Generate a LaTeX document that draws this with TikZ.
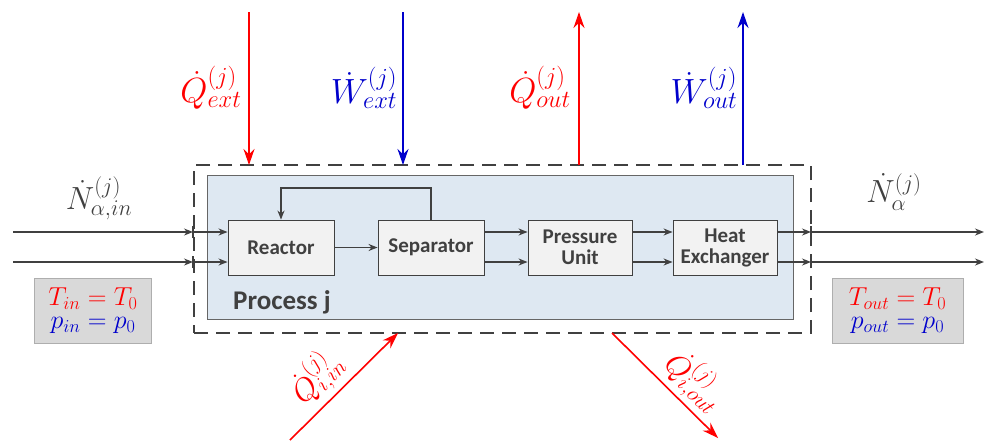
\RequirePackage{fix-cm}
\documentclass[tikz,border=0pt]{standalone}
\usepackage{fontspec}
\newfontfamily\boxfont{Carlito}
\usetikzlibrary{arrows.meta}
\definecolor{dk}{HTML}{404040}
\definecolor{procfill}{HTML}{DEE8F2}
\definecolor{unitfill}{HTML}{F2F2F2}
\definecolor{graybox}{HTML}{D9D9D9}
\definecolor{qred}{HTML}{FF0000}
\definecolor{wblue}{HTML}{0000CC}
\tikzset{
  unit/.style={draw=dk, line width=0.9pt, fill=unitfill, minimum width=106pt, minimum height=55pt, inner sep=0pt, align=center, font=\boxfont\bfseries\fontsize{21}{23}\selectfont, text=dk},
  flow/.style={draw=dk, line width=1.3pt, -{Stealth[length=9pt,width=7pt]}},
  tick/.style={draw=dk, line width=1.3pt},
  heat/.style={draw=qred, line width=1.8pt, -{Stealth[length=16pt,width=11pt]}},
  work/.style={draw=wblue, line width=1.8pt, -{Stealth[length=16pt,width=11pt]}},
  lbl/.style={font=\fontsize{35}{38}\selectfont, inner sep=0pt},
  cond/.style={fill=graybox, draw=graybox!80!black, line width=0.4pt, align=center, font=\fontsize{26}{28}\selectfont, inner sep=0pt},
}
\begin{document}
\begin{tikzpicture}[x=1pt,y=-1pt]
\useasboundingbox (0,0) rectangle (984,440);
% process box
\node[draw=dk!80, line width=0.9pt, fill=procfill, minimum width=586pt, minimum height=144pt, inner sep=0pt] (proc) at (500,247) {};
\node[anchor=west, font=\boxfont\bfseries\fontsize{27}{30}\selectfont, text=dk, inner sep=0pt] (plabel) at (233,302) {Process j};
% dashed system boundary
\node[draw=dk, line width=2.4pt, dash pattern=on 14pt off 8pt, minimum width=617pt, minimum height=168pt, inner sep=0pt] (sys) at (502.5,249) {};
% units
\node[unit] (reac) at (281,247.5) {Reactor};
\node[unit] (sep) at (431,247.5) {Separator};
\node[unit, minimum width=104pt] (pu) at (580,247.5) {Pressure\\[-2pt]Unit};
\node[unit, minimum width=104pt] (hx) at (725,247.5) {Heat\\[-2pt]Exchanger};
% coordinates
\coordinate (inA) at (13,232);
\coordinate (inB) at (13,262);
\coordinate (bA) at (193,232);
\coordinate (bB) at (193,262);
\coordinate (oA) at (811,232);
\coordinate (oB) at (811,262);
\coordinate (endA) at (984,232);
\coordinate (endB) at (984,262);
\coordinate (fb1) at (431,188);
\coordinate (fb2) at (281,188);
% inlet flows
\draw[flow] (inA) -- (bA);
\draw[flow] (inB) -- (bB);
\draw[tick] ([yshift=-6pt]bA) -- ([yshift=6pt]bA);
\draw[tick] ([yshift=-6pt]bB) -- ([yshift=6pt]bB);
\draw[flow] (bA) -- (reac.west |- bA);
\draw[flow] (bB) -- (reac.west |- bB);
% internal
\draw[flow] (reac.east) -- (sep.west);
\draw[flow] (sep.north) -- (fb1) -- (fb2) -- (reac.north);
\draw[flow] (sep.east |- bA) -- (pu.west |- bA);
\draw[flow] (sep.east |- bB) -- (pu.west |- bB);
\draw[flow] (pu.east |- bA) -- (hx.west |- bA);
\draw[flow] (pu.east |- bB) -- (hx.west |- bB);
\draw[flow] (hx.east |- oA) -- (oA);
\draw[flow] (hx.east |- oB) -- (oB);
\draw[tick] ([yshift=-6pt]oA) -- ([yshift=6pt]oA);
\draw[tick] ([yshift=-6pt]oB) -- ([yshift=6pt]oB);
\draw[flow] (oA) -- (endA);
\draw[flow] (oB) -- (endB);
% flow labels
\node[lbl, text=dk, font=\fontsize{32}{35}\selectfont] (nin) at (99,198) {$\dot{N}^{(j)}_{\alpha,in}$};
\node[lbl, text=dk, font=\fontsize{32}{35}\selectfont] (nout) at (894,192) {$\dot{N}^{(j)}_{\alpha}$};
% condition boxes
\node[cond, minimum width=117pt, minimum height=65pt] (cin) at (93,310.5) {\textcolor{qred}{$T_{in}=T_0$}\\[-5pt]\textcolor{wblue}{$p_{in}=p_0$}};
\node[cond, minimum width=131pt, minimum height=65pt] (cout) at (897.5,310.5) {\textcolor{qred}{$T_{out}=T_0$}\\[-5pt]\textcolor{wblue}{$p_{out}=p_0$}};
% top energy flows
\coordinate (qe0) at (249,12);
\coordinate (qe1) at (249,165);
\coordinate (we0) at (403,12);
\coordinate (we1) at (403,165);
\coordinate (qo0) at (579,165);
\coordinate (qo1) at (579,12);
\coordinate (wo0) at (743,165);
\coordinate (wo1) at (743,12);
\draw[heat] (qe0) -- (qe1);
\draw[work] (we0) -- (we1);
\draw[heat] (qo0) -- (qo1);
\draw[work] (wo0) -- (wo1);
\node[lbl, text=qred] (lqe) at (211,88) {$\dot{Q}^{(j)}_{ext}$};
\node[lbl, text=wblue] (lwe) at (364,88) {$\dot{W}^{(j)}_{ext}$};
\node[lbl, text=qred] (lqo) at (540,88) {$\dot{Q}^{(j)}_{out}$};
\node[lbl, text=wblue] (lwo) at (704,88) {$\dot{W}^{(j)}_{out}$};
% bottom heat losses
\coordinate (qi0) at (290,440);
\coordinate (qi1) at (398,333);
\coordinate (qio0) at (612,333);
\coordinate (qio1) at (718,438);
\draw[heat, line width=1.6pt] (qi0) -- (qi1);
\draw[heat, line width=1.6pt] (qio0) -- (qio1);
\node[lbl, text=qred, rotate=45, font=\fontsize{31}{34}\selectfont] (lqi) at (316,377) {$\dot{Q}^{(j)}_{i,in}$};
\node[lbl, text=qred, rotate=-45, font=\fontsize{31}{34}\selectfont] (lqio) at (695,381) {$\dot{Q}^{(j)}_{i,out}$};
\end{tikzpicture}
\end{document}
